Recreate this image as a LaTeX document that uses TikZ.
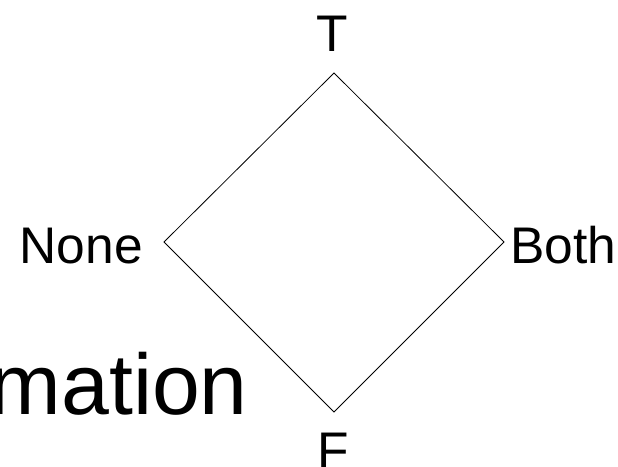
\documentclass[tikz,border=0pt]{standalone}
\usepackage{fontspec}
\setmainfont{Liberation Sans}
\begin{document}
\begin{tikzpicture}[x=1pt,y=-1pt,
  lbl/.style={inner sep=0pt, font=\fontsize{51.5}{60}\selectfont},
  big/.style={inner sep=0pt, font=\fontsize{86}{96}\selectfont},
  edge/.style={line width=0.8pt, black}]
  % page frame
  \clip (0,0) rectangle (618,466);
  \fill[white] (0,0) rectangle (618,466);

  % lattice corners
  \coordinate (top) at (334,73);
  \coordinate (left) at (164,242);
  \coordinate (right) at (504,242);
  \coordinate (bottom) at (334,412);

  \draw[edge, line join=miter] (top) -- (right) -- (bottom) -- (left) -- cycle;

  % labels
  \node[lbl, anchor=base] (tlab) at (332.5,51) {T};
  \node[lbl, anchor=base] (flab) at (333,468) {F};
  \node[lbl, anchor=base east] (nonelab) at (143,263) {None};
  \node[lbl, anchor=base west] (bothlab) at (510,263) {Both};
  \node[big, anchor=base east] (word) at (248,414) {mation};
\end{tikzpicture}
\end{document}
